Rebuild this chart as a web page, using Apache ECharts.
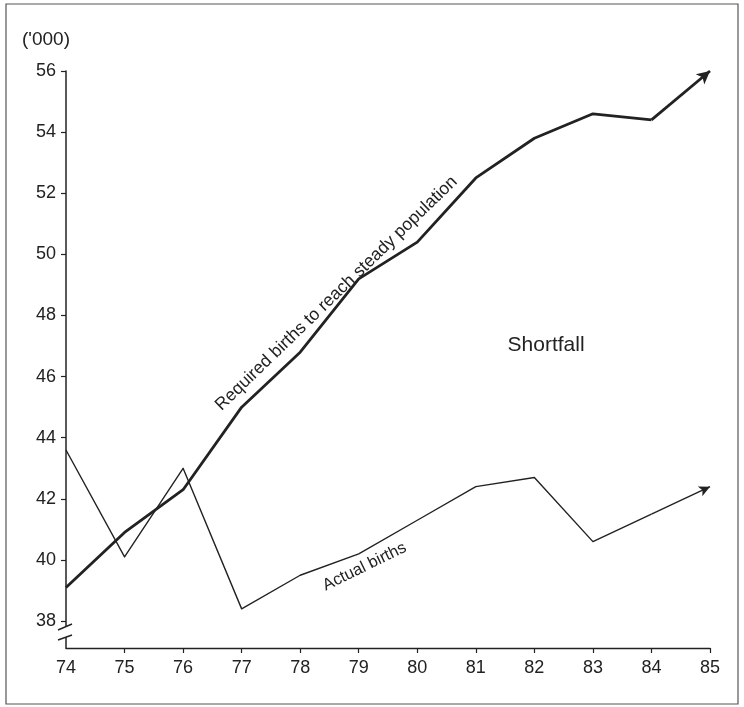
<!DOCTYPE html>
<html>
<head>
<meta charset="utf-8">
<script src="https://cdn.jsdelivr.net/npm/echarts@6/dist/echarts.min.js"></script>
<style>
html,body{margin:0;padding:0;background:#fff;}
#c{width:744px;height:707px;}
</style>
</head>
<body>
<div id="c"></div>
<script>
// ---- data ----
var years = [74, 75, 76, 77, 78, 79, 80, 81, 82, 83, 84, 85];
var requiredBirths = [39.1, 40.9, 42.3, 45.0, 46.8, 49.2, 50.4, 52.5, 53.8, 54.6, 54.4, 56.0];
var actualBirths = [43.6, 40.1, 43.0, 38.4, 39.5, 40.2, 41.3, 42.4, 42.7, 40.6, 41.5, 42.4];
var yTickLabels = [38, 40, 42, 44, 46, 48, 50, 52, 54, 56];
var xTickLabels = [74, 75, 76, 77, 78, 79, 80, 81, 82, 83, 84, 85];
var xTickMarks = [75, 76, 77, 78, 79, 80, 81, 82, 83, 84, 85];

var FONT = '"Liberation Sans", Arial, Helvetica, sans-serif';
var INK = '#222';

function pairs(xs, ys, upto) {
  var out = [];
  for (var i = 0; i < upto; i++) out.push([xs[i], ys[i]]);
  return out;
}

var chart = echarts.init(document.getElementById('c'), null, {renderer: 'canvas'});
var n = years.length;

var option = {
  animation: false,
  backgroundColor: '#fff',
  grid: {left: 66, right: 34, top: 71, bottom: 59, outerBoundsMode: 'none'},
  xAxis: {
    type: 'value', min: 74, max: 85, interval: 1,
    axisLine: {show: true, lineStyle: {color: INK, width: 1.3}},
    axisTick: {show: true, customValues: xTickMarks, length: 5, lineStyle: {color: INK, width: 1.2}},
    axisLabel: {customValues: xTickLabels, color: INK, fontSize: 18, fontFamily: FONT, margin: 11},
    splitLine: {show: false}
  },
  yAxis: {
    type: 'value', min: 37.12, max: 56,
    axisLine: {show: true, lineStyle: {color: INK, width: 1.5}},
    axisTick: {show: true, customValues: yTickLabels, length: 5, lineStyle: {color: INK, width: 1.2}},
    axisLabel: {customValues: yTickLabels, color: INK, fontSize: 18, fontFamily: FONT, margin: 10},
    splitLine: {show: false}
  },
  series: [
    {
      name: 'Required births to reach steady population',
      type: 'line',
      data: pairs(years, requiredBirths, n - 1),
      symbol: 'none',
      lineStyle: {color: INK, width: 2.8, join: 'round'},
      z: 3,
      markLine: {
        silent: true,
        symbol: ['none', 'arrow'],
        symbolSize: [10, 13],
        label: {show: false},
        lineStyle: {color: INK, width: 2.8, type: 'solid'},
        emphasis: {disabled: true},
        data: [[
          {coord: [years[n - 2], requiredBirths[n - 2]]},
          {coord: [years[n - 1], requiredBirths[n - 1]]}
        ]]
      }
    },
    {
      name: 'Actual births',
      type: 'line',
      data: pairs(years, actualBirths, n - 1),
      symbol: 'none',
      lineStyle: {color: INK, width: 1.4, join: 'round'},
      z: 2,
      markLine: {
        silent: true,
        symbol: ['none', 'arrow'],
        symbolSize: [8, 11],
        label: {show: false},
        lineStyle: {color: INK, width: 1.4, type: 'solid'},
        emphasis: {disabled: true},
        data: [[
          {coord: [years[n - 2], actualBirths[n - 2]]},
          {coord: [years[n - 1], actualBirths[n - 1]]}
        ]]
      }
    }
  ]
};
chart.setOption(option);

function px(x, y) { return chart.convertToPixel({gridIndex: 0}, [x, y]); }

var origin = px(74, 37.12);
var ax = origin[0], ay = origin[1];
var reqC = px(78.62, 48.72);
var actC = px(79.1, 39.78);
var shortC = px(82.2, 47.03);

chart.setOption({
  graphic: [
    {type: 'rect', shape: {x: 6, y: 4, width: 732, height: 700},
     style: {fill: 'none', stroke: '#555', lineWidth: 1.2}, z: 1},
    {type: 'text', left: 22, top: 30,
     style: {text: "('000)", font: '19px ' + FONT, fill: INK}},
    // axis break
    {type: 'rect', shape: {x: ax - 3, y: ay - 22, width: 6, height: 11},
     style: {fill: '#fff'}, z: 50},
    {type: 'line', shape: {x1: ax - 8, y1: ay - 18, x2: ax + 6, y2: ay - 24},
     style: {stroke: INK, lineWidth: 1.4}, z: 51},
    {type: 'line', shape: {x1: ax - 8, y1: ay - 8, x2: ax + 6, y2: ay - 13},
     style: {stroke: INK, lineWidth: 1.4}, z: 51},
    // annotations
    {type: 'text', x: reqC[0], y: reqC[1], rotation: 44 * Math.PI / 180,
     style: {text: 'Required births to reach steady population', font: '17.5px ' + FONT,
             fill: INK, align: 'center', verticalAlign: 'middle'}, z: 60},
    {type: 'text', x: actC[0], y: actC[1], rotation: 26 * Math.PI / 180,
     style: {text: 'Actual births', font: '16.5px ' + FONT,
             fill: INK, align: 'center', verticalAlign: 'middle'}, z: 60},
    {type: 'text', x: shortC[0], y: shortC[1],
     style: {text: 'Shortfall', font: '21px ' + FONT,
             fill: INK, align: 'center', verticalAlign: 'middle'}, z: 60}
  ]
});
</script>
</body>
</html>
